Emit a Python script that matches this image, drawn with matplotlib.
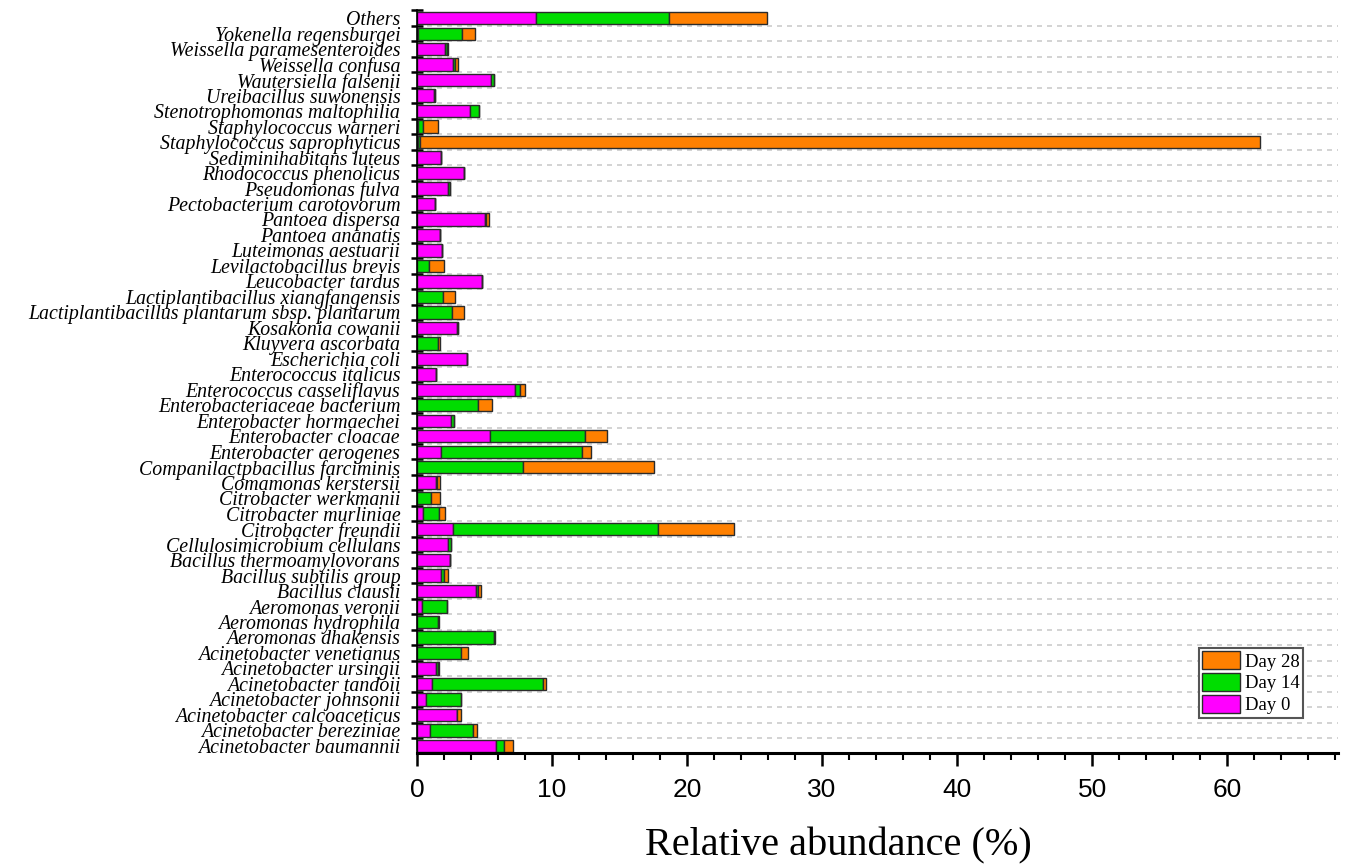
import numpy as np
import matplotlib
matplotlib.use("Agg")
import matplotlib.pyplot as plt
from matplotlib.ticker import MultipleLocator

# species, listed bottom -> top as drawn
species = [
    "Acinetobacter baumannii", "Acinetobacter bereziniae", "Acinetobacter calcoaceticus",
    "Acinetobacter johnsonii", "Acinetobacter tandoii", "Acinetobacter ursingii",
    "Acinetobacter venetianus", "Aeromonas dhakensis", "Aeromonas hydrophila",
    "Aeromonas veronii", "Bacillus clausii", "Bacillus subtilis group",
    "Bacillus thermoamylovorans", "Cellulosimicrobium cellulans", "Citrobacter freundii",
    "Citrobacter murliniae", "Citrobacter werkmanii", "Comamonas kerstersii",
    "Companilactpbacillus farciminis", "Enterobacter aerogenes", "Enterobacter cloacae",
    "Enterobacter hormaechei", "Enterobacteriaceae bacterium", "Enterococcus casseliflavus",
    "Enterococcus italicus", "Escherichia coli", "Kluyvera ascorbata",
    "Kosakonia cowanii", "Lactiplantibacillus plantarum sbsp. plantarum",
    "Lactiplantibacillus xiangfangensis", "Leucobacter tardus", "Levilactobacillus brevis",
    "Luteimonas aestuarii", "Pantoea ananatis", "Pantoea dispersa",
    "Pectobacterium carotovorum", "Pseudomonas fulva", "Rhodococcus phenolicus",
    "Sediminihabitans luteus", "Staphylococcus saprophyticus", "Staphylococcus warneri",
    "Stenotrophomonas maltophilia", "Ureibacillus suwonensis", "Wautersiella falsenii",
    "Weissella confusa", "Weissella paramesenteroides", "Yokenella regensburgei",
    "Others",
]

day0 = [5.88, 0.99, 2.94, 0.67, 1.14, 1.43, 0.0, 0.0, 0.0, 0.37,
        4.37, 1.80, 2.47, 2.27, 2.67, 0.44, 0.0, 1.41, 0.0, 1.80,
        5.38, 2.54, 0.0, 7.26, 1.43, 3.70, 0.0, 3.00, 0.0, 0.0,
        4.79, 0.0, 1.85, 1.70, 5.01, 1.31, 2.30, 3.48, 1.80, 0.10,
        0.05, 3.90, 1.26, 5.48, 2.67, 2.10, 0.05, 8.79]

day14 = [0.56, 3.16, 0.05, 2.61, 8.22, 0.15, 3.23, 5.70, 1.58, 1.85,
         0.15, 0.22, 0.0, 0.27, 15.18, 1.19, 1.04, 0.10, 7.85, 10.40,
         7.09, 0.20, 4.54, 0.37, 0.0, 0.0, 1.53, 0.05, 2.59, 1.93,
         0.03, 0.86, 0.03, 0.0, 0.10, 0.05, 0.17, 0.0, 0.0, 0.15,
         0.40, 0.69, 0.07, 0.20, 0.12, 0.15, 3.28, 9.88]

day28 = [0.67, 0.29, 0.27, 0.0, 0.20, 0.05, 0.57, 0.05, 0.05, 0.0,
         0.22, 0.28, 0.0, 0.0, 5.61, 0.44, 0.66, 0.20, 9.73, 0.70,
         1.60, 0.02, 1.02, 0.39, 0.0, 0.0, 0.20, 0.0, 0.91, 0.91,
         0.0, 1.14, 0.0, 0.03, 0.20, 0.0, 0.0, 0.0, 0.0, 62.20,
         1.09, 0.0, 0.0, 0.0, 0.27, 0.05, 0.94, 7.28]

fig = plt.figure(figsize=(13.48, 8.67), dpi=100)
ax = fig.add_axes([0.3093, 0.1315, 0.6833, 0.8564])

y = np.arange(len(species))
d0 = np.array(day0)
d14 = np.array(day14)
d28 = np.array(day28)

# grid lines between categories, drawn under bars
for b in y[:-1] + 0.5:
    ax.axhline(b, color="#cccccc", lw=1.2, ls=(0, (3, 3)), zorder=0)

edge = dict(edgecolor="#2b2b2b", linewidth=1.0, height=0.8, zorder=2)
ax.barh(y, d0, color="#ff00ff", label="Day 0", **edge)
ax.barh(y, d14, left=d0, color="#00dd00", label="Day 14", **edge)
ax.barh(y, d28, left=d0 + d14, color="#ff8000", label="Day 28", **edge)

ax.set_xlim(0, 68.2)
ax.set_ylim(-0.46, len(species) - 0.5)

ax.set_yticks(y + 0.5, minor=False)
ax.set_yticklabels([])
ax.set_yticks(y, minor=True)
ax.set_yticklabels(species, minor=True, family="Liberation Serif", style="italic",
                   fontsize=14.3)
ax.tick_params(axis="y", which="major", direction="inout", length=9, width=1.8,
               color="black")
ax.tick_params(axis="y", which="minor", length=0, pad=12)

ax.xaxis.set_major_locator(MultipleLocator(10))
ax.xaxis.set_minor_locator(MultipleLocator(2))
ax.tick_params(axis="x", which="major", direction="out", length=9, width=1.8,
               pad=9, labelsize=19)
ax.tick_params(axis="x", which="minor", direction="out", length=5, width=1.5)
for lab in ax.get_xticklabels():
    lab.set_family("Liberation Sans")

ax.spines["top"].set_visible(False)
ax.spines["right"].set_visible(False)
ax.spines["bottom"].set_linewidth(2.2)
ax.spines["left"].set_linewidth(1.2)

ax.set_xlabel("Relative abundance (%)", family="Liberation Serif", fontsize=29)
ax.xaxis.set_label_coords(0.458, -0.1)
ax.xaxis.label.set_va("top")

handles, labels = ax.get_legend_handles_labels()
leg = ax.legend(handles[::-1], labels[::-1], loc="lower right",
                bbox_to_anchor=(0.962, 0.047), borderaxespad=0, fancybox=False,
                prop={"family": "Liberation Serif", "size": 13.5},
                handlelength=2.0, handleheight=1.05, labelspacing=0.15,
                handletextpad=0.25, borderpad=0.2, framealpha=1)
leg.get_frame().set_edgecolor("#555555")
leg.get_frame().set_linewidth(1.5)

fig.savefig("out.png", dpi=100)
